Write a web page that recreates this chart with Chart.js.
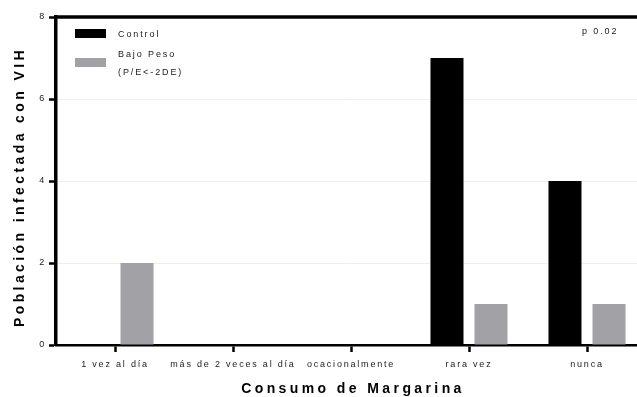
<!DOCTYPE html>
<html>
<head>
<meta charset="utf-8">
<script src="https://cdn.jsdelivr.net/npm/chart.js@4/dist/chart.umd.min.js"></script>
<style>
  html, body { margin: 0; padding: 0; background: #fff; overflow: hidden; }
  #wrap { width: 637px; height: 397px; overflow: hidden; }
  canvas { display: block; }
</style>
</head>
<body>
<div id="wrap"><canvas id="c" width="660" height="397"></canvas></div>
<script>
// Categories and series
const categories = ['1 vez al día', 'más de 2 veces al día', 'ocacionalmente', 'rara vez', 'nunca'];
const controlValues = [0, 0, 0, 7, 4];
const bajoPesoValues = [2, 0, 0, 1, 1];
const seriesLabels = [['Control'], ['Bajo Peso', '(P/E<-2DE)']];
const yTicks = [0, 2, 4, 6, 8];
const xTitle = 'Consumo de Margarina';
const yTitle = 'Población infectada con VIH';
const pNote = 'p 0.02';

const FONT = '"Liberation Sans", Arial, Helvetica, sans-serif';
const SMALL_SPACING = '1.8px';

// Spaced lettering for tick labels, titles and legend
const textPlugin = {
  id: 'spacedText',
  beforeLayout(chart) { chart.ctx.letterSpacing = SMALL_SPACING; },
  beforeDraw(chart) { chart.ctx.letterSpacing = SMALL_SPACING; },
  afterDraw(chart) {
    const ctx = chart.ctx;
    const area = chart.chartArea;
    ctx.save();

    // top frame line
    ctx.strokeStyle = '#000';
    ctx.lineWidth = 3.5;
    ctx.beginPath();
    ctx.moveTo(area.left - 1.5, area.top);
    ctx.lineTo(chart.width, area.top);
    ctx.stroke();

    // legend
    ctx.font = '9px ' + FONT;
    ctx.letterSpacing = '1.9px';
    ctx.textAlign = 'left';
    ctx.textBaseline = 'middle';
    const ds = chart.data.datasets;
    const boxes = [{ y: 29, h: 9, text: [35] }, { y: 58, h: 9, text: [55, 73] }];
    ds.forEach((d, i) => {
      ctx.fillStyle = d.backgroundColor;
      ctx.fillRect(75, boxes[i].y, 31, boxes[i].h);
      ctx.fillStyle = '#1a1a1a';
      seriesLabels[i].forEach((line, j) => ctx.fillText(line, 118, boxes[i].text[j]));
    });

    // p value
    ctx.fillText(pNote, 582, 32);

    // axis titles
    ctx.fillStyle = '#000';
    ctx.font = 'bold 14px ' + FONT;
    ctx.letterSpacing = '3.4px';
    ctx.textAlign = 'center';
    ctx.fillText(xTitle, (area.left + area.right) / 2 + 2, 389);
    ctx.translate(20, (area.top + area.bottom) / 2 + 6);
    ctx.rotate(-Math.PI / 2);
    ctx.fillText(yTitle, 0, 0);
    ctx.restore();
  }
};

new Chart(document.getElementById('c'), {
  type: 'bar',
  data: {
    labels: categories,
    datasets: [
      { label: seriesLabels[0].join(' '), data: controlValues, backgroundColor: '#000000' },
      { label: seriesLabels[1].join(' '), data: bajoPesoValues, backgroundColor: '#a2a1a6' }
    ]
  },
  options: {
    responsive: false,
    animation: false,
    events: [],
    categoryPercentage: 0.746,
    barPercentage: 0.75,
    layout: { padding: { top: 17, right: 14, bottom: 0, left: 0 } },
    plugins: { legend: { display: false }, tooltip: { enabled: false } },
    scales: {
      x: {
        grid: { offset: false, drawOnChartArea: false, tickLength: 7, tickWidth: 2.5, tickColor: '#000' },
        border: { color: '#000', width: 2.5 },
        ticks: {
          color: '#1a1a1a', maxRotation: 0, minRotation: 0, autoSkip: false, padding: 7,
          font: { family: FONT, size: 9 }
        },
        afterFit(scale) { scale.height = 52; }
      },
      y: {
        min: 0, max: 8,
        afterBuildTicks(scale) { scale.ticks = yTicks.map(v => ({ value: v })); },
        grid: {
          color: '#efefef', lineWidth: 1, borderDash: [1, 2],
          tickLength: 7, tickWidth: 2.5, tickColor: '#000', tickBorderDash: []
        },
        border: { color: '#000', width: 3.5 },
        ticks: { color: '#1a1a1a', padding: 3, font: { family: FONT, size: 9 } },
        afterFit(scale) { scale.width = 56; }
      }
    }
  },
  plugins: [textPlugin]
});
</script>
</body>
</html>
